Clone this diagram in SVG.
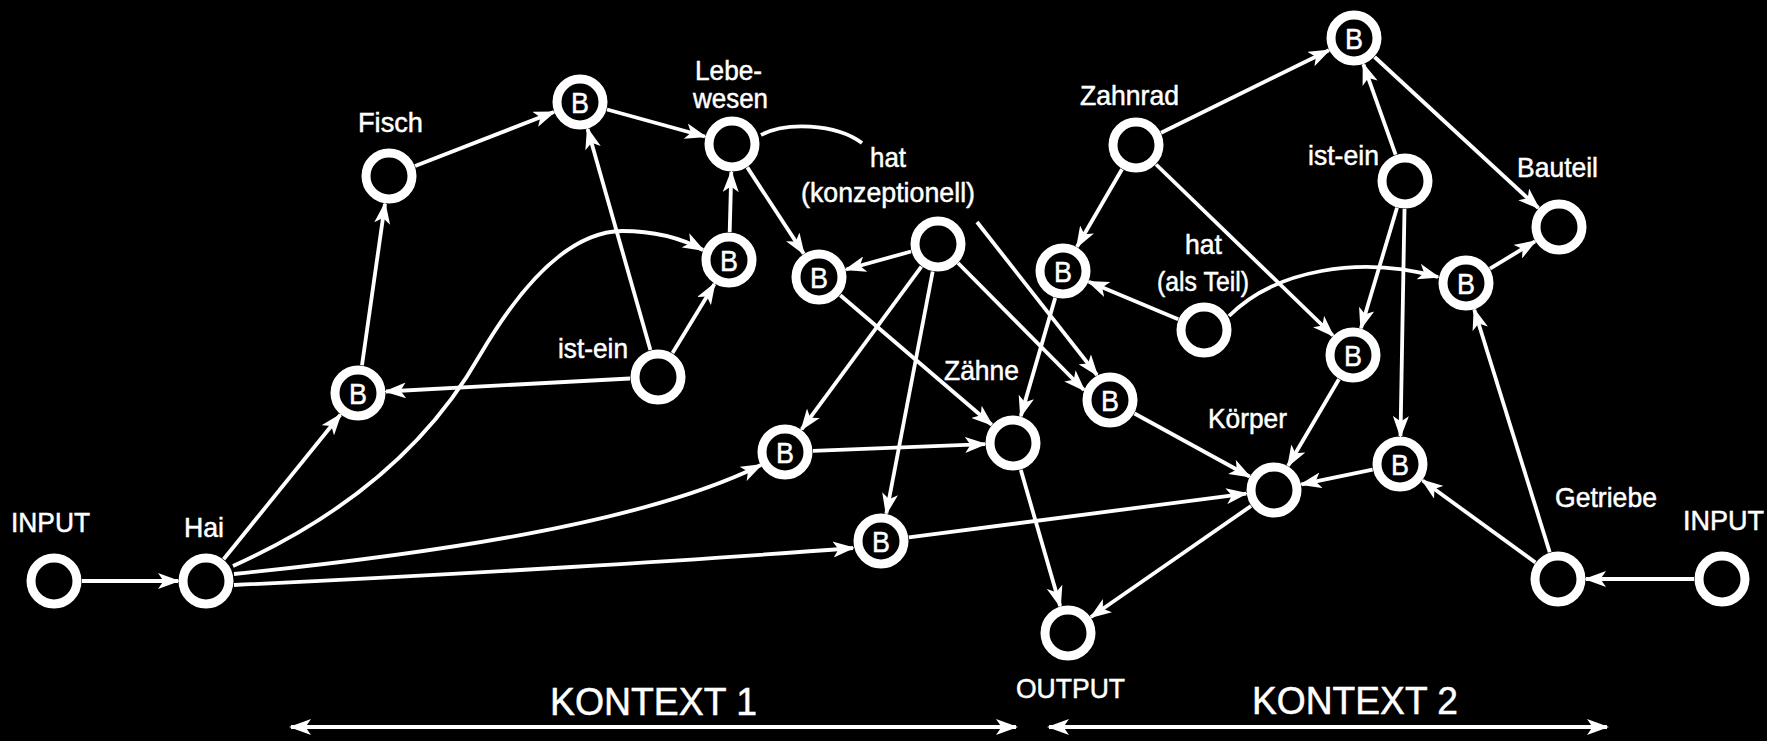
<svg xmlns="http://www.w3.org/2000/svg" width="1767" height="741" viewBox="0 0 1767 741">
  <defs>
    <marker id="ah" viewBox="0 0 22 16" refX="20" refY="8" markerWidth="22" markerHeight="16" markerUnits="userSpaceOnUse" orient="auto-start-reverse">
      <path d="M0,0 L22,8 L0,16 L5.5,8 Z" fill="#fff"/>
    </marker>
  </defs>
  <style>
    .ring { fill: #000; stroke: #fff; stroke-width: 9; }
    .edge { fill: none; stroke: #fff; stroke-width: 3.8; marker-end: url(#ah); }
    .plain { fill: none; stroke: #fff; stroke-width: 3.8; }
    .span { fill: none; stroke: #fff; stroke-width: 3.8; marker-start: url(#ah); marker-end: url(#ah); }
    text { font-family: "Liberation Sans", Arial, sans-serif; fill: #fff; stroke: #fff; stroke-width: 0.5; }
    .lbl { font-size: 28px; }
    .b { font-size: 30px; text-anchor: middle; }
    .ctx { font-size: 38px; }
  </style>

  <rect x="0" y="0" width="1767" height="741" fill="#000"/>

  <!-- connectors (drawn first so the rings sit on top) -->
  <g id="connectors">
    <path class="edge" d="M82,581 L178,581"/>
    <path class="edge" d="M223.6,559.2 L340.4,414.8"/>
    <path class="edge" d="M362,365.3 L385,203.7"/>
    <path class="edge" d="M415.1,165.9 L553.9,112.1"/>
    <path class="edge" d="M607,109.5 L705,136.5"/>
    <path class="edge" d="M650.4,350.1 L587.6,128.9"/>
    <path class="edge" d="M729.7,232 L731.3,172"/>
    <path class="edge" d="M672.5,353.1 L714.5,284"/>
    <path class="edge" d="M630,378.5 L386,391.5"/>
    <path class="edge" d="M747.3,167.4 L803.7,253.6"/>
    <path class="edge" d="M911,251.5 L846,269.5"/>
    <path class="edge" d="M921.4,266.6 L801.6,429.4"/>
    <path class="edge" d="M932.7,271.5 L886.3,513.5"/>
    <path class="edge" d="M958,263 L1084,390"/>
    <path class="edge" d="M977,222 L1097,375"/>
    <path class="edge" d="M840.3,295.2 L991.7,424.8"/>
    <path class="edge" d="M813,450.9 L985,444.1"/>
    <path class="edge" d="M1055.2,297.9 L1020.8,416.1"/>
    <path class="edge" d="M1020.8,469.9 L1060.2,606.1"/>
    <path class="edge" d="M1251,506 L1091,617"/>
    <path class="edge" d="M908.8,537.4 L1246.2,493.6"/>
    <path class="edge" d="M1134.5,413.5 L1249.5,476.5"/>
    <path class="edge" d="M1338.9,379.2 L1288.1,465.8"/>
    <path class="edge" d="M1372.6,469.7 L1301.4,484.3"/>
    <path class="edge" d="M1535.4,562.5 L1422.6,480.5"/>
    <path class="edge" d="M1694,579 L1586,579"/>
    <path class="edge" d="M1549.7,552.3 L1474.3,309.7"/>
    <path class="edge" d="M1490,268.6 L1535,241.4"/>
    <path class="edge" d="M1374.6,57 L1538.4,208"/>
    <path class="edge" d="M1161.1,132.7 L1328.9,50.3"/>
    <path class="edge" d="M1395.6,154.6 L1363.4,64.4"/>
    <path class="edge" d="M1397,207.8 L1361,328.2"/>
    <path class="edge" d="M1404.5,209 L1400.5,436"/>
    <path class="edge" d="M1122,169.2 L1077,246.8"/>
    <path class="edge" d="M1156.1,164.5 L1332.9,335.5"/>
    <path class="edge" d="M1178.2,319.2 L1088.8,281.8"/>
    <path class="edge" d="M1229,316 C1275,270 1360,255 1438,277"/>
    <path class="plain" d="M761,135 C785,122 835,123 862,143"/>
    <path class="edge" d="M233,566 Q404,489 480,355 Q552,232 622,231 C655,231 683,239 703,250"/>
    <path class="edge" d="M234,574 C420,555 640,525 761,465"/>
    <path class="edge" d="M234,585 C450,575 700,560 853,548"/>
    <path class="span" d="M291,727 L1016,727"/>
    <path class="span" d="M1049,727 L1607,727"/>
  </g>

  <!-- concept nodes -->
  <g id="input-left"><circle class="ring" cx="54" cy="581" r="23"/><text class="lbl" x="11" y="532" textLength="79" lengthAdjust="spacingAndGlyphs">INPUT</text></g>
  <g id="hai"><circle class="ring" cx="206" cy="581" r="23"/><text class="lbl" x="184" y="537" textLength="40" lengthAdjust="spacingAndGlyphs">Hai</text></g>
  <g id="fisch"><circle class="ring" cx="389" cy="176" r="23"/><text class="lbl" x="358" y="132" textLength="65" lengthAdjust="spacingAndGlyphs">Fisch</text></g>
  <g id="lebewesen"><circle class="ring" cx="732" cy="144" r="23"/><text class="lbl" x="695" y="80" textLength="67" lengthAdjust="spacingAndGlyphs">Lebe-</text><text class="lbl" x="693" y="108" textLength="75" lengthAdjust="spacingAndGlyphs">wesen</text></g>
  <g id="ist-ein-1"><circle class="ring" cx="658" cy="377" r="23"/><text class="lbl" x="558" y="358" textLength="70" lengthAdjust="spacingAndGlyphs">ist-ein</text></g>
  <g id="hat-konzeptionell"><circle class="ring" cx="938" cy="244" r="23"/><text class="lbl" x="870" y="167" textLength="36" lengthAdjust="spacingAndGlyphs">hat</text><text class="lbl" x="801" y="202" textLength="174" lengthAdjust="spacingAndGlyphs">(konzeptionell)</text></g>
  <g id="zaehne"><circle class="ring" cx="1013" cy="443" r="23"/><text class="lbl" x="944" y="380" textLength="75" lengthAdjust="spacingAndGlyphs">Zähne</text></g>
  <g id="output"><circle class="ring" cx="1068" cy="633" r="23"/><text class="lbl" x="1016" y="698" textLength="109" lengthAdjust="spacingAndGlyphs">OUTPUT</text></g>
  <g id="zahnrad"><circle class="ring" cx="1136" cy="145" r="23"/><text class="lbl" x="1080" y="105" textLength="99" lengthAdjust="spacingAndGlyphs">Zahnrad</text></g>
  <g id="hat-als-teil"><circle class="ring" cx="1204" cy="330" r="23"/><text class="lbl" x="1185" y="254" textLength="37" lengthAdjust="spacingAndGlyphs">hat</text><text class="lbl" x="1157" y="291" textLength="92" lengthAdjust="spacingAndGlyphs">(als Teil)</text></g>
  <g id="ist-ein-2"><circle class="ring" cx="1405" cy="181" r="23"/><text class="lbl" x="1308" y="165" textLength="71" lengthAdjust="spacingAndGlyphs">ist-ein</text></g>
  <g id="bauteil"><circle class="ring" cx="1559" cy="227" r="23"/><text class="lbl" x="1517" y="177" textLength="81" lengthAdjust="spacingAndGlyphs">Bauteil</text></g>
  <g id="koerper"><circle class="ring" cx="1274" cy="490" r="23"/><text class="lbl" x="1208" y="428" textLength="79" lengthAdjust="spacingAndGlyphs">Körper</text></g>
  <g id="getriebe"><circle class="ring" cx="1558" cy="579" r="23"/><text class="lbl" x="1555" y="507" textLength="102" lengthAdjust="spacingAndGlyphs">Getriebe</text></g>
  <g id="input-right"><circle class="ring" cx="1722" cy="579" r="23"/><text class="lbl" x="1683" y="530" textLength="81" lengthAdjust="spacingAndGlyphs">INPUT</text></g>

  <!-- binding nodes -->
  <g id="b1"><circle class="ring" cx="358" cy="393" r="23"/><text class="b" x="358" y="404" textLength="18" lengthAdjust="spacingAndGlyphs">B</text></g>
  <g id="b2"><circle class="ring" cx="580" cy="102" r="23"/><text class="b" x="580" y="113" textLength="18" lengthAdjust="spacingAndGlyphs">B</text></g>
  <g id="b3"><circle class="ring" cx="729" cy="260" r="23"/><text class="b" x="729" y="271" textLength="18" lengthAdjust="spacingAndGlyphs">B</text></g>
  <g id="b4"><circle class="ring" cx="819" cy="277" r="23"/><text class="b" x="819" y="288" textLength="18" lengthAdjust="spacingAndGlyphs">B</text></g>
  <g id="b5"><circle class="ring" cx="785" cy="452" r="23"/><text class="b" x="785" y="463" textLength="18" lengthAdjust="spacingAndGlyphs">B</text></g>
  <g id="b6"><circle class="ring" cx="881" cy="541" r="23"/><text class="b" x="881" y="552" textLength="18" lengthAdjust="spacingAndGlyphs">B</text></g>
  <g id="b7"><circle class="ring" cx="1110" cy="400" r="23"/><text class="b" x="1110" y="411" textLength="18" lengthAdjust="spacingAndGlyphs">B</text></g>
  <g id="b8"><circle class="ring" cx="1063" cy="271" r="23"/><text class="b" x="1063" y="282" textLength="18" lengthAdjust="spacingAndGlyphs">B</text></g>
  <g id="b9"><circle class="ring" cx="1354" cy="38" r="23"/><text class="b" x="1354" y="49" textLength="18" lengthAdjust="spacingAndGlyphs">B</text></g>
  <g id="b10"><circle class="ring" cx="1466" cy="283" r="23"/><text class="b" x="1466" y="294" textLength="18" lengthAdjust="spacingAndGlyphs">B</text></g>
  <g id="b11"><circle class="ring" cx="1353" cy="355" r="23"/><text class="b" x="1353" y="366" textLength="18" lengthAdjust="spacingAndGlyphs">B</text></g>
  <g id="b12"><circle class="ring" cx="1400" cy="464" r="23"/><text class="b" x="1400" y="475" textLength="18" lengthAdjust="spacingAndGlyphs">B</text></g>

  <!-- context ranges -->
  <g id="kontext-1"><text class="ctx" x="550" y="715" textLength="207" lengthAdjust="spacingAndGlyphs">KONTEXT 1</text></g>
  <g id="kontext-2"><text class="ctx" x="1252" y="714" textLength="206" lengthAdjust="spacingAndGlyphs">KONTEXT 2</text></g>
</svg>
